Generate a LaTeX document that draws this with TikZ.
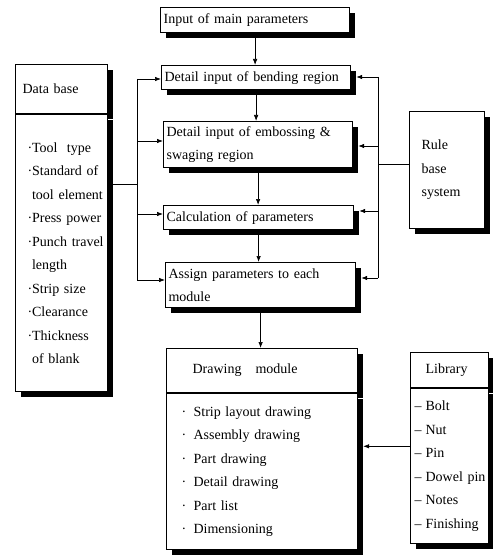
\documentclass[tikz,border=0pt]{standalone}
\usepackage{fontspec}
\setmainfont{Liberation Serif}
\usetikzlibrary{arrows.meta,shadows}
\newcommand{\dbi}[1]{\hspace*{9pt}\makebox[4.5pt][l]{·}#1}
\newcommand{\dbc}[1]{\hspace*{13.5pt}#1}
\newcommand{\dmi}[1]{\hspace*{12pt}\makebox[12pt][l]{·}#1}
\newcommand{\lbi}[1]{\hspace*{1pt}\makebox[11pt][l]{--}#1}
\tikzset{
  every node/.style={font=\fontsize{14}{23.5}\selectfont},
  procbox/.style={draw, fill=white, line width=1.2pt, anchor=north west, align=left,
    inner xsep=3pt, inner ysep=0pt,
    drop shadow={shadow xshift=5pt, shadow yshift=-5pt, fill=black, opacity=1}},
  bus/.style={line width=0.7pt},
  arr/.style={line width=0.7pt, -{Latex[length=6pt,width=4.5pt]}},
}
\begin{document}
\begin{tikzpicture}[x=1pt,y=-1pt]
\useasboundingbox (0,0) rectangle (492,556);
% process column
\node[procbox, text width=183pt, minimum height=25pt] (main) at (160,7) {Input of main parameters};
\node[procbox, text width=183pt, minimum height=24pt] (bend) at (161,65) {Detail input of bending region};
\node[procbox, text width=183pt, minimum height=46pt] (emb) at (163,121) {Detail input of embossing \&\\swaging region};
\node[procbox, text width=184pt, minimum height=24pt] (calc) at (163,205) {Calculation of parameters};
\node[procbox, text width=184pt, minimum height=45pt] (assign) at (165,262) {Assign parameters to each\\module};
% data base
\node[procbox, text width=78pt, inner xsep=7pt, minimum height=49pt] (dbhead) at (15,64) {Data base};
\node[procbox, text width=86pt, minimum height=277pt] (dbbody) at (dbhead.south west)
  {\dbi{Tool~~type}\\\dbi{Standard of}\\\dbc{tool element}\\\dbi{Press power}\\\dbi{Punch travel}\\
   \dbc{length}\\\dbi{Strip size}\\\dbi{Clearance}\\\dbi{Thickness}\\\dbc{of blank}};
% rule base
\node[procbox, text width=69pt, minimum height=117pt] (rule) at (409,111) {\hspace*{9pt}Rule\\\hspace*{9pt}base\\\hspace*{9pt}system};
% drawing module
\node[procbox, text width=185pt, minimum height=44pt] (dmhead) at (166,348) {\hspace*{23pt}Drawing~~~module};
\node[procbox, text width=185pt, minimum height=156pt] (dmbody) at (dmhead.south west)
  {\dmi{Strip layout drawing}\\\dmi{Assembly drawing}\\\dmi{Part drawing}\\\dmi{Detail drawing}\\
   \dmi{Part list}\\\dmi{Dimensioning}};
% library
\node[procbox, text width=72pt, minimum height=35pt] (libhead) at (410,352) {\hspace*{12pt}Library};
\node[procbox, text width=72pt, minimum height=155pt] (libbody) at (libhead.south west)
  {\lbi{Bolt}\\\lbi{Nut}\\\lbi{Pin}\\\lbi{Dowel~pin}\\\lbi{Notes}\\\lbi{Finishing}};
% bus points
\coordinate (l2) at (137,79);
\coordinate (l3) at (137,141);
\coordinate (l4) at (137,214);
\coordinate (l5) at (137,280);
\coordinate (lj) at (137,184);
\coordinate (r2) at (378,77);
\coordinate (r3) at (378,146);
\coordinate (r4) at (378,211);
\coordinate (r5) at (378,278);
\coordinate (rj) at (378,164);
% main flow
\draw[arr] (main.south) -- (main.south |- bend.north);
\draw[arr] (bend.south) -- (bend.south |- emb.north);
\draw[arr] (emb.south) -- (emb.south |- calc.north);
\draw[arr] (calc.south) -- (calc.south |- assign.north);
\draw[arr] (assign.south) -- (assign.south |- dmhead.north);
% left bus
\draw[bus] (lj -| dbbody.east) -- (lj);
\draw[bus] (l2) -- (l5);
\draw[arr] (l2) -- (l2 -| bend.west);
\draw[arr] (l3) -- (l3 -| emb.west);
\draw[arr] (l4) -- (l4 -| calc.west);
\draw[arr] (l5) -- (l5 -| assign.west);
% right bus
\draw[bus] (rule.west |- rj) -- (rj);
\draw[bus] (r2) -- (r5);
\draw[arr, shorten >=5pt] (r2) -- (r2 -| bend.east);
\draw[arr, shorten >=5pt] (r3) -- (r3 -| emb.east);
\draw[arr, shorten >=5pt] (r4) -- (r4 -| calc.east);
\draw[arr, shorten >=5pt] (r5) -- (r5 -| assign.east);
% library to drawing module
\coordinate (lo) at ([yshift=20pt]libbody.west);
\draw[arr, shorten >=5pt] (lo) -- (lo -| dmbody.east);
\end{tikzpicture}
\end{document}
